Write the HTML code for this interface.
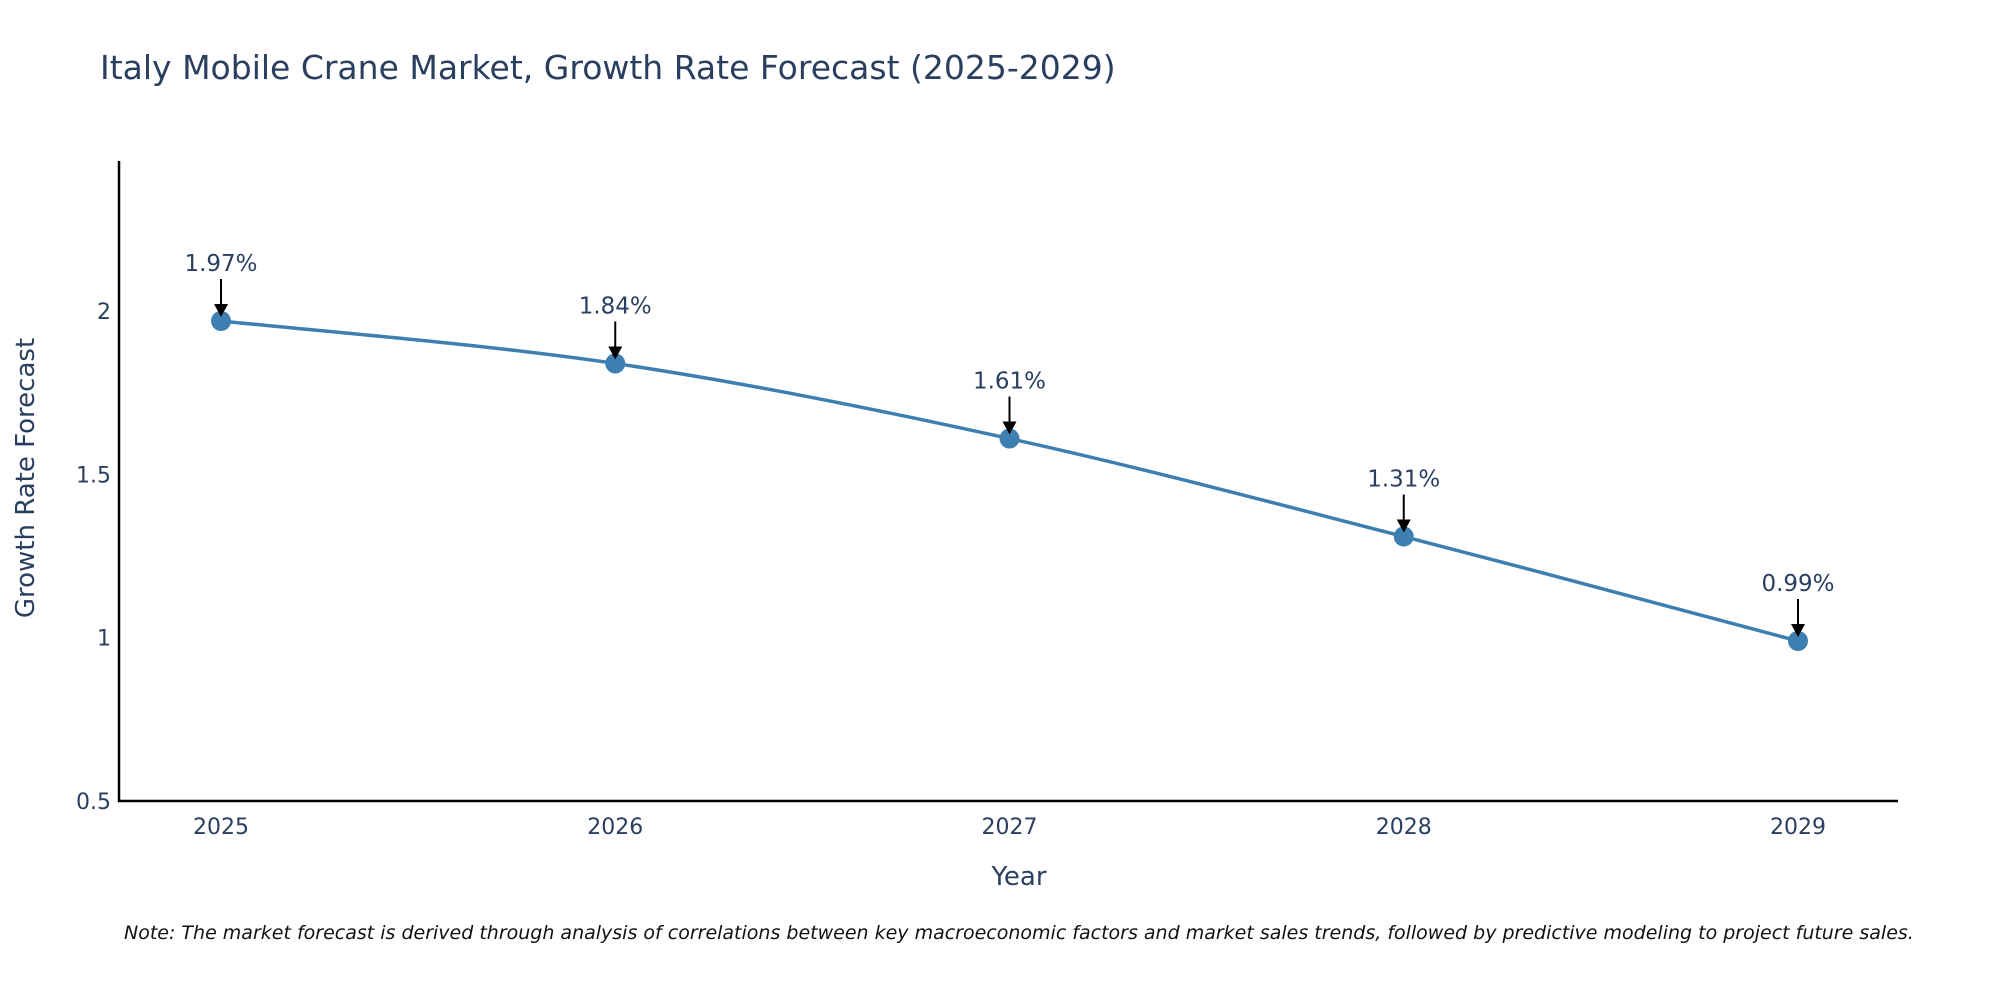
<!DOCTYPE html>
<html><head><meta charset="utf-8"><style>
body{margin:0;background:#fff;}
svg{display:block;font-family:"DejaVu Sans","Liberation Sans",sans-serif;}
</style></head><body>
<svg id="chart" width="2000" height="1000" viewBox="0 0 2000 1000">
<rect width="2000" height="1000" fill="#fff"/>
<text x="100" y="79" font-size="33" fill="#2a3f5f">Italy Mobile Crane Market, Growth Rate Forecast (2025-2029)</text>
<g id="axes"></g>
<path id="line" fill="none" stroke="#3d7fb1" stroke-width="3.5"/>
<g id="marks"></g>
<text x="1019" y="885" font-size="26" fill="#2a3f5f" text-anchor="middle">Year</text>
<text transform="translate(34,478) rotate(-90)" font-size="26" fill="#2a3f5f" text-anchor="middle">Growth Rate Forecast</text>
<text x="124" y="939" font-size="19" font-style="italic" fill="#111">Note: The market forecast is derived through analysis of correlations between key macroeconomic factors and market sales trends, followed by predictive modeling to project future sales.</text>
</svg>
<script>
const years=[2025,2026,2027,2028,2029];
const values=[1.97,1.84,1.61,1.31,0.99];
const labels=["1.97%","1.84%","1.61%","1.31%","0.99%"];
const yTicks=[0.5,1,1.5,2];
const yTickLabels=["0.5","1","1.5","2"];

const NS="http://www.w3.org/2000/svg";
const X0=119,X1=1898,Y0=801,Y1=161;
const yMin=0.5,yMax=2.46;
const xs=y=>221+(y-2025)*(1798-221)/4;
const ys=v=>Y0-(v-yMin)*(Y0-Y1)/(yMax-yMin);
function mk(t,a,p){const e=document.createElementNS(NS,t);for(const k in a)e.setAttribute(k,a[k]);(p||document.getElementById('chart')).appendChild(e);return e;}
const axes=document.getElementById('axes');
let e=mk('line',{x1:X0,y1:Y1,x2:X0,y2:Y0+1,stroke:'#000','stroke-width':2.5},axes);


e=mk('line',{x1:X0-1,y1:Y0,x2:X1,y2:Y0,stroke:'#000','stroke-width':2.5},axes);


yTicks.forEach((t,i)=>{const el=mk('text',{x:111,y:ys(t)+8,'font-size':22,fill:'#2a3f5f','text-anchor':'end'},axes);el.textContent=yTickLabels[i];

});
years.forEach(y=>{const el=mk('text',{x:xs(y),y:834,'font-size':22,fill:'#2a3f5f','text-anchor':'middle'},axes);el.textContent=String(y);

});
const P=years.map((y,i)=>[xs(y),ys(values[i])]);
let d=`M${P[0][0]},${P[0][1]}`;
for(let i=0;i<P.length-1;i++){const p0=P[i-1]||P[i],p1=P[i],p2=P[i+1],p3=P[i+2]||P[i+1];const s=1/6;
d+=` C${p1[0]+(p2[0]-p0[0])*s},${p1[1]+(p2[1]-p0[1])*s} ${p2[0]-(p3[0]-p1[0])*s},${p2[1]-(p3[1]-p1[1])*s} ${p2[0]},${p2[1]}`;}
document.getElementById('line').setAttribute('d',d);
const marks=document.getElementById('marks');
P.forEach((p,i)=>{
const c=mk('circle',{cx:p[0],cy:p[1],r:10,fill:'#3d7fb1'},marks);


const a=mk('line',{x1:p[0],y1:p[1]-42,x2:p[0],y2:p[1]-14,stroke:'#000','stroke-width':2},marks);


const h=mk('polygon',{points:`${p[0]-7},${p[1]-17} ${p[0]+7},${p[1]-17} ${p[0]},${p[1]-4}`,fill:'#000'},marks);


const t=mk('text',{x:p[0],y:p[1]-50,'font-size':23,fill:'#2a3f5f','text-anchor':'middle'},marks);t.textContent=labels[i];


});
</script>
</body></html>
